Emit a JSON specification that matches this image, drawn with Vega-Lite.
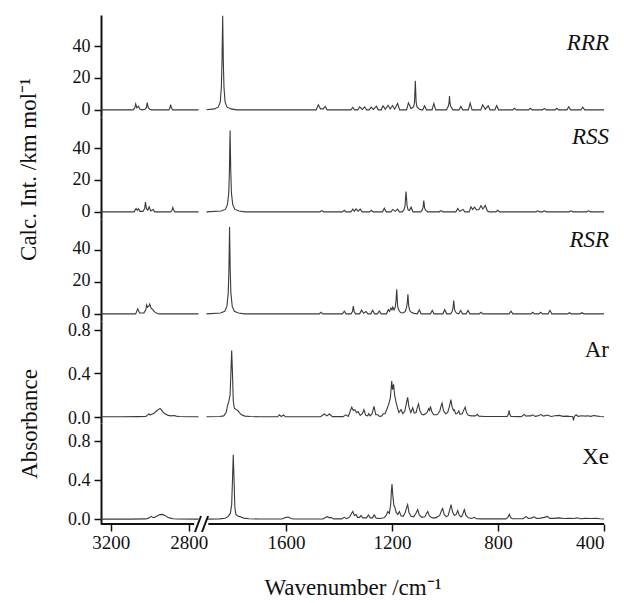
{
  "$schema": "https://vega.github.io/schema/vega-lite/v6.json",
  "background": "white",
  "padding": {"left": 17, "top": 13, "right": 5, "bottom": 0},
  "spacing": 0,
  "bounds": "flush",
  "resolve": {"scale": {"x": "independent", "y": "independent"}},
  "config": {
    "font": "Liberation Serif",
    "view": {"stroke": null},
    "axis": {"grid": false, "domainColor": "#111", "domainWidth": 2, "tickColor": "#111", "tickWidth": 1.5, "tickSize": 7, "labelFont": "Liberation Serif", "labelFontSize": 18, "labelColor": "#111", "labelPadding": 4, "titleFont": "Liberation Serif", "titleFontSize": 23, "titleFontWeight": "normal", "titleColor": "#111"},
    "text": {"font": "Liberation Serif", "fontSize": 23, "color": "#111"}
  },
  "datasets": {
    "rrr": [
      {"wn":3250,"v":0},{"wn":3085,"v":0},{"wn":3077,"v":1.2},{"wn":3072,"v":3.7},{"wn":3066,"v":1.2},{"wn":3058,"v":2.3},{"wn":3050,"v":0.4},{"wn":3040,"v":0},{"wn":3024,"v":0.4},{"wn":3017,"v":1.5},{"wn":3013,"v":4.6},{"wn":3008,"v":1.5},{"wn":3000,"v":0.3},{"wn":2990,"v":0},{"wn":2902,"v":0},{"wn":2897,"v":1},{"wn":2893,"v":3.2},{"wn":2888,"v":1},{"wn":2882,"v":0},{"wn":2750,"v":0},
      {"wn":2300,"v":null},
      {"wn":1900,"v":0},{"wn":1870,"v":0.6},{"wn":1855,"v":1.8},{"wn":1848,"v":5},{"wn":1844,"v":14},{"wn":1841.5,"v":30},{"wn":1839,"v":59},{"wn":1836.5,"v":30},{"wn":1834,"v":14},{"wn":1830,"v":5},{"wn":1823,"v":1.8},{"wn":1808,"v":0.6},{"wn":1785,"v":0},
      {"wn":1486,"v":0},{"wn":1478,"v":3.2},{"wn":1470,"v":0.6},{"wn":1460,"v":0.6},{"wn":1452,"v":2.1},{"wn":1445,"v":0},
      {"wn":1355,"v":0},{"wn":1348,"v":1.5},{"wn":1341,"v":0},
      {"wn":1329,"v":0},{"wn":1322,"v":1.9},{"wn":1312,"v":0.3},{"wn":1303,"v":1.9},{"wn":1296,"v":0},
      {"wn":1286,"v":0},{"wn":1279,"v":1.7},{"wn":1270,"v":0.3},{"wn":1259,"v":2.3},{"wn":1252,"v":0},
      {"wn":1241,"v":0},{"wn":1234,"v":2.5},{"wn":1225,"v":0.4},{"wn":1215,"v":2.9},{"wn":1207,"v":0.5},{"wn":1198,"v":2.7},{"wn":1190,"v":0.4},{"wn":1179,"v":4.0},{"wn":1171,"v":0},
      {"wn":1145,"v":0},{"wn":1138,"v":4.4},{"wn":1128,"v":0.8},{"wn":1118,"v":2},{"wn":1115,"v":5},{"wn":1112,"v":18.3},{"wn":1109,"v":5},{"wn":1106,"v":2},{"wn":1098,"v":0.5},{"wn":1090,"v":0},
      {"wn":1084,"v":0},{"wn":1077,"v":2.5},{"wn":1070,"v":0},
      {"wn":1049,"v":0},{"wn":1042,"v":4.0},{"wn":1035,"v":0},
      {"wn":995,"v":0},{"wn":988,"v":2},{"wn":985,"v":4},{"wn":983,"v":8.6},{"wn":981,"v":4},{"wn":978,"v":2},{"wn":970,"v":0},
      {"wn":947,"v":0},{"wn":940,"v":2.1},{"wn":933,"v":0},
      {"wn":912,"v":0},{"wn":905,"v":4.2},{"wn":898,"v":0},
      {"wn":865,"v":0},{"wn":858,"v":3.2},{"wn":848,"v":0.4},{"wn":837,"v":2.5},{"wn":830,"v":0},
      {"wn":812,"v":0},{"wn":805,"v":2.7},{"wn":798,"v":0},
      {"wn":745,"v":0},{"wn":738,"v":1.0},{"wn":731,"v":0},
      {"wn":685,"v":0},{"wn":678,"v":1.0},{"wn":671,"v":0},
      {"wn":632,"v":0},{"wn":625,"v":0.8},{"wn":618,"v":0},
      {"wn":585,"v":0},{"wn":578,"v":1.0},{"wn":571,"v":0},
      {"wn":540,"v":0},{"wn":533,"v":1.9},{"wn":526,"v":0},
      {"wn":487,"v":0},{"wn":480,"v":1.7},{"wn":473,"v":0},
      {"wn":400,"v":0}
    ],
    "rss": [
      {"wn":3250,"v":0},{"wn":3080,"v":0},{"wn":3070,"v":2.1},{"wn":3064,"v":1},{"wn":3058,"v":2},{"wn":3050,"v":0.3},{"wn":3035,"v":0.3},{"wn":3026,"v":2},{"wn":3022,"v":6.1},{"wn":3017,"v":2},{"wn":3010,"v":1},{"wn":3003,"v":3.2},{"wn":2995,"v":0.6},{"wn":2983,"v":1.5},{"wn":2975,"v":0},{"wn":2892,"v":0},{"wn":2886,"v":1},{"wn":2882,"v":2.7},{"wn":2877,"v":1},{"wn":2871,"v":0},{"wn":2750,"v":0},
      {"wn":2300,"v":null},
      {"wn":1900,"v":0},{"wn":1845,"v":0.5},{"wn":1829,"v":1.5},{"wn":1821,"v":4.5},{"wn":1816,"v":12},{"wn":1813.5,"v":26},{"wn":1811,"v":51},{"wn":1808.5,"v":26},{"wn":1806,"v":12},{"wn":1801,"v":4.5},{"wn":1793,"v":1.5},{"wn":1777,"v":0.5},{"wn":1755,"v":0},
      {"wn":1472,"v":0},{"wn":1465,"v":0.8},{"wn":1458,"v":0},
      {"wn":1387,"v":0},{"wn":1380,"v":1.0},{"wn":1373,"v":0},
      {"wn":1355,"v":0},{"wn":1348,"v":1.7},{"wn":1342,"v":0.4},{"wn":1336,"v":1.9},{"wn":1328,"v":0.4},{"wn":1320,"v":1.7},{"wn":1313,"v":0},
      {"wn":1285,"v":0},{"wn":1278,"v":1.0},{"wn":1271,"v":0},
      {"wn":1236,"v":0},{"wn":1229,"v":2.3},{"wn":1222,"v":0},
      {"wn":1204,"v":0},{"wn":1197,"v":1.5},{"wn":1188,"v":0.3},{"wn":1179,"v":1.7},{"wn":1172,"v":0},
      {"wn":1162,"v":0},{"wn":1155,"v":1.2},{"wn":1151,"v":3.5},{"wn":1147,"v":12.8},{"wn":1143,"v":3.5},{"wn":1139,"v":1.2},{"wn":1134,"v":0.8},{"wn":1128,"v":2.9},{"wn":1121,"v":0},
      {"wn":1092,"v":0},{"wn":1086,"v":1.2},{"wn":1083,"v":2.5},{"wn":1080,"v":7.0},{"wn":1077,"v":2.5},{"wn":1074,"v":1.2},{"wn":1066,"v":0},
      {"wn":1022,"v":0},{"wn":1015,"v":0.8},{"wn":1008,"v":0},
      {"wn":959,"v":0},{"wn":952,"v":2.1},{"wn":944,"v":0.3},{"wn":932,"v":1.5},{"wn":925,"v":0},
      {"wn":909,"v":0},{"wn":902,"v":3.2},{"wn":896,"v":1.5},{"wn":889,"v":2.9},{"wn":881,"v":1.2},{"wn":872,"v":1.5},{"wn":864,"v":3.9},{"wn":857,"v":1.8},{"wn":848,"v":4.0},{"wn":840,"v":0.5},{"wn":832,"v":0},
      {"wn":808,"v":0},{"wn":801,"v":1.0},{"wn":794,"v":0},
      {"wn":657,"v":0},{"wn":650,"v":0.6},{"wn":643,"v":0},{"wn":632,"v":0},{"wn":625,"v":0.6},{"wn":618,"v":0},
      {"wn":531,"v":0},{"wn":524,"v":0.6},{"wn":517,"v":0},
      {"wn":465,"v":0},{"wn":458,"v":0.6},{"wn":451,"v":0},
      {"wn":400,"v":0}
    ],
    "rsr": [
      {"wn":3250,"v":0},{"wn":3072,"v":0},{"wn":3062,"v":3.1},{"wn":3052,"v":0.5},{"wn":3030,"v":0.6},{"wn":3020,"v":2.5},{"wn":3016,"v":5.6},{"wn":3011,"v":4.2},{"wn":3008,"v":4.6},{"wn":3004,"v":5},{"wn":3000,"v":6.1},{"wn":2993,"v":3.5},{"wn":2985,"v":2.6},{"wn":2975,"v":1.2},{"wn":2962,"v":0.2},{"wn":2950,"v":0},{"wn":2750,"v":0},
      {"wn":2300,"v":null},
      {"wn":1900,"v":0},{"wn":1847,"v":0.5},{"wn":1831,"v":1.6},{"wn":1823,"v":4.8},{"wn":1818,"v":13},{"wn":1815.5,"v":27},{"wn":1813,"v":54.5},{"wn":1810.5,"v":27},{"wn":1808,"v":13},{"wn":1803,"v":4.8},{"wn":1795,"v":1.6},{"wn":1779,"v":0.5},{"wn":1757,"v":0},
      {"wn":1475,"v":0},{"wn":1468,"v":1.0},{"wn":1461,"v":0},
      {"wn":1387,"v":0},{"wn":1380,"v":1.6},{"wn":1373,"v":0},
      {"wn":1355,"v":0},{"wn":1349,"v":1.5},{"wn":1346,"v":4.8},{"wn":1343,"v":1.5},{"wn":1337,"v":0},
      {"wn":1322,"v":0},{"wn":1315,"v":2.3},{"wn":1307,"v":0.4},{"wn":1298,"v":1.5},{"wn":1291,"v":0},
      {"wn":1280,"v":0},{"wn":1273,"v":2.3},{"wn":1266,"v":0},
      {"wn":1255,"v":0},{"wn":1248,"v":1.8},{"wn":1241,"v":0},
      {"wn":1221,"v":0},{"wn":1214,"v":2.6},{"wn":1209,"v":1.5},{"wn":1204,"v":3.6},{"wn":1200,"v":2.5},{"wn":1197,"v":4.2},{"wn":1192,"v":2.5},{"wn":1188,"v":4},{"wn":1185,"v":8},{"wn":1182,"v":15.4},{"wn":1179,"v":5},{"wn":1175,"v":2.5},{"wn":1168,"v":0.8},{"wn":1158,"v":0.5},{"wn":1150,"v":1.5},{"wn":1145,"v":4},{"wn":1142,"v":7.5},{"wn":1140,"v":12.2},{"wn":1137,"v":5},{"wn":1133,"v":2},{"wn":1126,"v":0.8},{"wn":1116,"v":0.3},
      {"wn":1104,"v":0},{"wn":1097,"v":2.5},{"wn":1090,"v":0},
      {"wn":1055,"v":0},{"wn":1048,"v":2.1},{"wn":1041,"v":0},
      {"wn":1008,"v":0},{"wn":1001,"v":2.6},{"wn":994,"v":0},
      {"wn":979,"v":0},{"wn":973,"v":1.5},{"wn":970,"v":3.5},{"wn":967,"v":8.4},{"wn":964,"v":3},{"wn":961,"v":1.3},{"wn":955,"v":0.3},
      {"wn":948,"v":0},{"wn":941,"v":2.2},{"wn":934,"v":0},
      {"wn":920,"v":0},{"wn":913,"v":2.2},{"wn":906,"v":0},
      {"wn":871,"v":0},{"wn":864,"v":1.0},{"wn":857,"v":0},
      {"wn":758,"v":0},{"wn":751,"v":1.6},{"wn":744,"v":0},
      {"wn":676,"v":0},{"wn":669,"v":1.0},{"wn":662,"v":0},
      {"wn":646,"v":0},{"wn":639,"v":1.0},{"wn":632,"v":0},
      {"wn":611,"v":0},{"wn":604,"v":2.2},{"wn":597,"v":0},
      {"wn":537,"v":0},{"wn":530,"v":0.7},{"wn":523,"v":0},
      {"wn":490,"v":0},{"wn":483,"v":0.7},{"wn":476,"v":0},
      {"wn":400,"v":0}
    ],
    "ar": [
      {"wn":3250,"v":0.002},{"wn":3150,"v":0.002},{"wn":3060,"v":0.003},{"wn":3020,"v":0.005},{"wn":3010,"v":0.02},{"wn":3004,"v":0.03},{"wn":2998,"v":0.018},{"wn":2990,"v":0.025},{"wn":2978,"v":0.035},{"wn":2965,"v":0.055},{"wn":2955,"v":0.07},{"wn":2947,"v":0.078},{"wn":2940,"v":0.065},{"wn":2930,"v":0.04},{"wn":2918,"v":0.025},{"wn":2905,"v":0.015},{"wn":2890,"v":0.01},{"wn":2875,"v":0.014},{"wn":2865,"v":0.008},{"wn":2850,"v":0.004},{"wn":2800,"v":0.002},{"wn":2750,"v":0.002},
      {"wn":2300,"v":null},
      {"wn":1900,"v":0.002},{"wn":1850,"v":0.004},{"wn":1835,"v":0.01},{"wn":1826,"v":0.04},{"wn":1820,"v":0.11},{"wn":1816,"v":0.14},{"wn":1811,"v":0.2},{"wn":1808,"v":0.4},{"wn":1805,"v":0.61},{"wn":1802,"v":0.4},{"wn":1799,"v":0.15},{"wn":1795,"v":0.08},{"wn":1789,"v":0.07},{"wn":1782,"v":0.06},{"wn":1776,"v":0.04},{"wn":1768,"v":0.02},{"wn":1755,"v":0.008},{"wn":1735,"v":0.004},{"wn":1700,"v":0.002},
      {"wn":1632,"v":0.002},{"wn":1625,"v":0.02},{"wn":1618,"v":0.004},{"wn":1609,"v":0.018},{"wn":1602,"v":0.002},
      {"wn":1470,"v":0.002},{"wn":1455,"v":0.027},{"wn":1446,"v":0.01},{"wn":1436,"v":0.027},{"wn":1425,"v":0.003},
      {"wn":1385,"v":0.003},{"wn":1374,"v":0.02},{"wn":1365,"v":0.005},{"wn":1358,"v":0.05},{"wn":1352,"v":0.09},{"wn":1346,"v":0.06},{"wn":1340,"v":0.067},{"wn":1334,"v":0.04},{"wn":1328,"v":0.05},{"wn":1320,"v":0.015},{"wn":1312,"v":0.03},{"wn":1306,"v":0.067},{"wn":1299,"v":0.015},{"wn":1292,"v":0.01},{"wn":1288,"v":0.03},{"wn":1283,"v":0.01},{"wn":1275,"v":0.03},{"wn":1268,"v":0.097},{"wn":1261,"v":0.02},{"wn":1254,"v":0.02},{"wn":1247,"v":0.005},{"wn":1238,"v":0.01},{"wn":1233,"v":0.03},{"wn":1226,"v":0.03},{"wn":1218,"v":0.08},{"wn":1212,"v":0.12},{"wn":1206,"v":0.18},{"wn":1201,"v":0.33},{"wn":1198,"v":0.25},{"wn":1194,"v":0.3},{"wn":1190,"v":0.2},{"wn":1186,"v":0.15},{"wn":1180,"v":0.09},{"wn":1174,"v":0.04},{"wn":1166,"v":0.067},{"wn":1159,"v":0.03},{"wn":1152,"v":0.05},{"wn":1146,"v":0.12},{"wn":1141,"v":0.18},{"wn":1136,"v":0.09},{"wn":1129,"v":0.04},{"wn":1122,"v":0.085},{"wn":1116,"v":0.035},{"wn":1109,"v":0.04},{"wn":1104,"v":0.09},{"wn":1100,"v":0.12},{"wn":1095,"v":0.06},{"wn":1088,"v":0.025},{"wn":1080,"v":0.02},{"wn":1068,"v":0.04},{"wn":1062,"v":0.076},{"wn":1058,"v":0.06},{"wn":1055,"v":0.097},{"wn":1050,"v":0.05},{"wn":1043,"v":0.02},{"wn":1030,"v":0.02},{"wn":1020,"v":0.05},{"wn":1015,"v":0.1},{"wn":1011,"v":0.127},{"wn":1006,"v":0.06},{"wn":998,"v":0.03},{"wn":990,"v":0.04},{"wn":983,"v":0.1},{"wn":978,"v":0.16},{"wn":973,"v":0.09},{"wn":968,"v":0.06},{"wn":965,"v":0.067},{"wn":960,"v":0.03},{"wn":955,"v":0.03},{"wn":948,"v":0.055},{"wn":943,"v":0.025},{"wn":935,"v":0.03},{"wn":928,"v":0.07},{"wn":924,"v":0.09},{"wn":919,"v":0.04},{"wn":912,"v":0.015},{"wn":900,"v":0.01},{"wn":885,"v":0.01},{"wn":878,"v":0.024},{"wn":872,"v":0.008},{"wn":850,"v":0.005},{"wn":800,"v":0.004},
      {"wn":765,"v":0.004},{"wn":760,"v":0.03},{"wn":758,"v":0.06},{"wn":756,"v":0.03},{"wn":751,"v":0.004},
      {"wn":715,"v":0.003},{"wn":708,"v":0.01},{"wn":701,"v":0.024},{"wn":694,"v":0.008},{"wn":683,"v":0.012},{"wn":676,"v":0.01},{"wn":669,"v":0.02},{"wn":660,"v":0.006},{"wn":650,"v":0.01},{"wn":638,"v":0.022},{"wn":628,"v":0.008},{"wn":613,"v":0.018},{"wn":600,"v":0.005},{"wn":585,"v":0.012},{"wn":569,"v":0.015},{"wn":555,"v":0.006},{"wn":540,"v":0.008},{"wn":525,"v":0.005},{"wn":518,"v":0.002},{"wn":515,"v":-0.03},{"wn":512,"v":0.005},{"wn":505,"v":0.02},{"wn":498,"v":0.006},{"wn":485,"v":0.012},{"wn":470,"v":0.008},{"wn":462,"v":0.012},{"wn":450,"v":0.006},{"wn":438,"v":0.014},{"wn":430,"v":0.01},{"wn":415,"v":0.004},{"wn":400,"v":0.002}
    ],
    "xe": [
      {"wn":3250,"v":0.002},{"wn":3100,"v":0.002},{"wn":3020,"v":0.004},{"wn":3005,"v":0.012},{"wn":2997,"v":0.025},{"wn":2991,"v":0.03},{"wn":2985,"v":0.018},{"wn":2975,"v":0.02},{"wn":2962,"v":0.035},{"wn":2948,"v":0.048},{"wn":2935,"v":0.05},{"wn":2922,"v":0.04},{"wn":2908,"v":0.022},{"wn":2895,"v":0.012},{"wn":2880,"v":0.006},{"wn":2860,"v":0.003},{"wn":2750,"v":0.002},
      {"wn":2300,"v":null},
      {"wn":1900,"v":0.002},{"wn":1850,"v":0.004},{"wn":1830,"v":0.01},{"wn":1818,"v":0.03},{"wn":1810,"v":0.06},{"wn":1805,"v":0.15},{"wn":1802,"v":0.4},{"wn":1799,"v":0.66},{"wn":1796,"v":0.4},{"wn":1793,"v":0.12},{"wn":1789,"v":0.05},{"wn":1782,"v":0.034},{"wn":1772,"v":0.025},{"wn":1760,"v":0.012},{"wn":1740,"v":0.005},{"wn":1700,"v":0.003},
      {"wn":1615,"v":0.003},{"wn":1605,"v":0.015},{"wn":1598,"v":0.02},{"wn":1590,"v":0.024},{"wn":1582,"v":0.008},{"wn":1570,"v":0.003},
      {"wn":1460,"v":0.003},{"wn":1450,"v":0.02},{"wn":1443,"v":0.027},{"wn":1436,"v":0.015},{"wn":1430,"v":0.02},{"wn":1420,"v":0.004},
      {"wn":1390,"v":0.004},{"wn":1380,"v":0.02},{"wn":1370,"v":0.006},{"wn":1360,"v":0.025},{"wn":1353,"v":0.06},{"wn":1348,"v":0.08},{"wn":1342,"v":0.04},{"wn":1336,"v":0.05},{"wn":1330,"v":0.02},{"wn":1322,"v":0.02},{"wn":1317,"v":0.04},{"wn":1310,"v":0.015},{"wn":1296,"v":0.015},{"wn":1289,"v":0.045},{"wn":1282,"v":0.015},{"wn":1274,"v":0.015},{"wn":1267,"v":0.045},{"wn":1260,"v":0.012},{"wn":1245,"v":0.008},{"wn":1230,"v":0.015},{"wn":1222,"v":0.04},{"wn":1216,"v":0.08},{"wn":1210,"v":0.06},{"wn":1205,"v":0.15},{"wn":1202,"v":0.3},{"wn":1200,"v":0.36},{"wn":1197,"v":0.25},{"wn":1193,"v":0.14},{"wn":1189,"v":0.12},{"wn":1184,"v":0.07},{"wn":1178,"v":0.05},{"wn":1172,"v":0.08},{"wn":1166,"v":0.035},{"wn":1158,"v":0.03},{"wn":1150,"v":0.07},{"wn":1145,"v":0.12},{"wn":1141,"v":0.15},{"wn":1136,"v":0.07},{"wn":1128,"v":0.03},{"wn":1118,"v":0.025},{"wn":1110,"v":0.06},{"wn":1103,"v":0.1},{"wn":1097,"v":0.045},{"wn":1088,"v":0.02},{"wn":1076,"v":0.025},{"wn":1070,"v":0.06},{"wn":1065,"v":0.08},{"wn":1059,"v":0.035},{"wn":1048,"v":0.015},{"wn":1035,"v":0.015},{"wn":1020,"v":0.04},{"wn":1013,"v":0.09},{"wn":1009,"v":0.11},{"wn":1003,"v":0.05},{"wn":995,"v":0.025},{"wn":988,"v":0.04},{"wn":982,"v":0.1},{"wn":977,"v":0.15},{"wn":972,"v":0.08},{"wn":965,"v":0.04},{"wn":958,"v":0.05},{"wn":952,"v":0.09},{"wn":946,"v":0.04},{"wn":938,"v":0.025},{"wn":932,"v":0.06},{"wn":927,"v":0.1},{"wn":921,"v":0.04},{"wn":912,"v":0.015},{"wn":900,"v":0.008},{"wn":889,"v":0.02},{"wn":882,"v":0.006},{"wn":860,"v":0.004},{"wn":800,"v":0.004},
      {"wn":770,"v":0.004},{"wn":763,"v":0.02},{"wn":757,"v":0.05},{"wn":752,"v":0.015},{"wn":745,"v":0.005},
      {"wn":705,"v":0.006},{"wn":694,"v":0.03},{"wn":686,"v":0.01},{"wn":675,"v":0.012},{"wn":663,"v":0.025},{"wn":655,"v":0.01},{"wn":640,"v":0.012},{"wn":625,"v":0.02},{"wn":613,"v":0.03},{"wn":605,"v":0.01},{"wn":590,"v":0.01},{"wn":570,"v":0.015},{"wn":550,"v":0.008},{"wn":530,"v":0.01},{"wn":515,"v":0.008},{"wn":500,"v":0.015},{"wn":490,"v":0.006},{"wn":470,"v":0.01},{"wn":450,"v":0.008},{"wn":430,"v":0.01},{"wn":415,"v":0.005},{"wn":400,"v":0.003}
    ]
  },
  "vconcat": [
    {
      "width": 503, "height": 102,
      "layer": [
        {"data": {"name": "rrr"}, "mark": {"type": "line", "color": "#3a3a3a", "strokeWidth": 1.1},
         "encoding": {
           "x": {"field": "wn", "type": "quantitative", "scale": {"domain": [3250, 2750, 1900, 400], "range": [0, 97.5, 105.5, 503], "nice": false, "zero": false}, "axis": null},
           "y": {"field": "v", "type": "quantitative", "scale": {"domain": [-4.5, 59.5], "nice": false, "zero": false}, "axis": {"values": [0, 20, 40], "format": "d", "title": null}}
         }},
        {"data": {"values": [{"label": "RRR"}]}, "mark": {"type": "text", "align": "right", "baseline": "alphabetic", "font": "Liberation Serif", "fontStyle": "italic", "dx": 5},
         "encoding": {"x": {"datum": 400}, "y": {"datum": 37.5}, "text": {"field": "label"}}}
      ]
    },
    {
      "width": 503, "height": 102,
      "layer": [
        {"data": {"name": "rss"}, "mark": {"type": "line", "color": "#3a3a3a", "strokeWidth": 1.1},
         "encoding": {
           "x": {"field": "wn", "type": "quantitative", "scale": {"domain": [3250, 2750, 1900, 400], "range": [0, 97.5, 105.5, 503], "nice": false, "zero": false}, "axis": null},
           "y": {"field": "v", "type": "quantitative", "scale": {"domain": [-4.5, 59.5], "nice": false, "zero": false}, "axis": {"values": [0, 20, 40], "format": "d", "title": "Calc. Int. /km mol⁻¹", "titleX": -66, "titleY": 52, "titleBaseline": "alphabetic"}}
         }},
        {"data": {"values": [{"label": "RSS"}]}, "mark": {"type": "text", "align": "right", "baseline": "alphabetic", "font": "Liberation Serif", "fontStyle": "italic", "dx": 5},
         "encoding": {"x": {"datum": 400}, "y": {"datum": 42.5}, "text": {"field": "label"}}}
      ]
    },
    {
      "width": 503, "height": 102,
      "layer": [
        {"data": {"name": "rsr"}, "mark": {"type": "line", "color": "#3a3a3a", "strokeWidth": 1.1},
         "encoding": {
           "x": {"field": "wn", "type": "quantitative", "scale": {"domain": [3250, 2750, 1900, 400], "range": [0, 97.5, 105.5, 503], "nice": false, "zero": false}, "axis": null},
           "y": {"field": "v", "type": "quantitative", "scale": {"domain": [-4.5, 59.5], "nice": false, "zero": false}, "axis": {"values": [0, 20, 40], "format": "d", "title": null, "labelOffset": -1.5}}
         }},
        {"data": {"values": [{"label": "RSR"}]}, "mark": {"type": "text", "align": "right", "baseline": "alphabetic", "font": "Liberation Serif", "fontStyle": "italic", "dx": 5},
         "encoding": {"x": {"datum": 400}, "y": {"datum": 42}, "text": {"field": "label"}}}
      ]
    },
    {
      "width": 503, "height": 102,
      "layer": [
        {"data": {"name": "ar"}, "mark": {"type": "line", "color": "#3a3a3a", "strokeWidth": 1.1},
         "encoding": {
           "x": {"field": "wn", "type": "quantitative", "scale": {"domain": [3250, 2750, 1900, 400], "range": [0, 97.5, 105.5, 503], "nice": false, "zero": false}, "axis": null},
           "y": {"field": "v", "type": "quantitative", "scale": {"domain": [-0.055, 0.88], "nice": false, "zero": false}, "axis": {"values": [0, 0.4, 0.8], "format": ".1f", "title": "Absorbance", "titleX": -64.5, "titleY": 102.5, "titleBaseline": "alphabetic", "labelOffset": 1}}
         }},
        {"data": {"values": [{"label": "Ar"}]}, "mark": {"type": "text", "align": "right", "baseline": "alphabetic", "font": "Liberation Serif", "dx": 5},
         "encoding": {"x": {"datum": 400}, "y": {"datum": 0.55}, "text": {"field": "label"}}}
      ]
    },
    {
      "width": 503, "height": 101,
      "layer": [
        {"data": {"name": "xe"}, "mark": {"type": "line", "color": "#3a3a3a", "strokeWidth": 1.1},
         "encoding": {
           "x": {"field": "wn", "type": "quantitative", "scale": {"domain": [3250, 2750, 1900, 400], "range": [0, 97.5, 105.5, 503], "nice": false, "zero": false}, "axis": {"values": [3200, 2800, 1600, 1200, 800, 400], "format": "d", "domain": false, "labelFontSize": 19, "labelPadding": 2, "title": "Wavenumber /cm⁻¹", "titlePadding": 24}},
           "y": {"field": "v", "type": "quantitative", "scale": {"domain": [-0.048, 0.985], "nice": false, "zero": false}, "axis": {"values": [0, 0.4, 0.8], "format": ".1f", "title": null}}
         }},
        {"data": {"values": [{"label": "Xe"}]}, "mark": {"type": "text", "align": "right", "baseline": "alphabetic", "font": "Liberation Serif", "dx": 5},
         "encoding": {"x": {"datum": 400}, "y": {"datum": 0.565}, "text": {"field": "label"}}},
        {"data": {"values": [{"part": "axis left"}]}, "mark": {"type": "rule", "color": "#111", "strokeWidth": 2},
         "encoding": {"x": {"datum": 3250}, "x2": {"datum": 2772}, "y": {"datum": -0.048}}},
        {"data": {"values": [{"part": "axis right"}]}, "mark": {"type": "rule", "color": "#111", "strokeWidth": 2},
         "encoding": {"x": {"datum": 1893}, "x2": {"datum": 400}, "y": {"datum": -0.048}}},
        {"data": {"values": [{"part": "break slash 1"}]}, "mark": {"type": "rule", "color": "#111", "strokeWidth": 2},
         "encoding": {"x": {"datum": 2768}, "y": {"datum": -0.13}, "x2": {"datum": 2484}, "y2": {"datum": 0.034}}},
        {"data": {"values": [{"part": "break slash 2"}]}, "mark": {"type": "rule", "color": "#111", "strokeWidth": 2},
         "encoding": {"x": {"datum": 2378}, "y": {"datum": -0.13}, "x2": {"datum": 1894}, "y2": {"datum": 0.034}}}
      ]
    }
  ]
}
